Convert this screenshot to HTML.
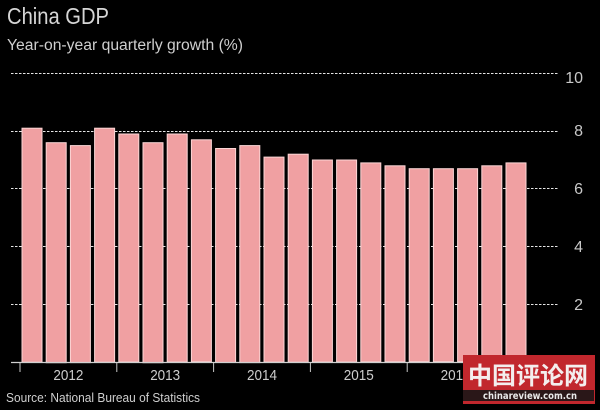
<!DOCTYPE html>
<html>
<head>
<meta charset="utf-8">
<style>
html,body{margin:0;padding:0;background:#000;}
body{width:600px;height:410px;overflow:hidden;}
svg{display:block;}
</style>
</head>
<body>
<svg width="600" height="410" viewBox="0 0 600 410" xmlns="http://www.w3.org/2000/svg">
<rect width="600" height="410" fill="#000"/>
<text x="7" y="24" font-family="Liberation Sans, sans-serif" font-size="23" fill="#d6d6d6" textLength="102" lengthAdjust="spacingAndGlyphs">China GDP</text>
<text x="7" y="50" font-family="Liberation Sans, sans-serif" font-size="15.5" fill="#cfcfcf" textLength="236" lengthAdjust="spacingAndGlyphs">Year-on-year quarterly growth (%)</text>

<g stroke="#e6e6e6" stroke-width="1" stroke-dasharray="2.5,1.5">
<line x1="11" y1="73.5" x2="558" y2="73.5"/>
<line x1="11" y1="131.5" x2="558" y2="131.5"/>
<line x1="11" y1="188.5" x2="558" y2="188.5"/>
<line x1="11" y1="246.5" x2="558" y2="246.5"/>
<line x1="11" y1="304.5" x2="558" y2="304.5"/>
</g>

<g font-family="Liberation Sans, sans-serif" font-size="16" fill="#c8c8c8" text-anchor="end">
<text x="583" y="83">10</text>
<text x="583" y="136">8</text>
<text x="583" y="194">6</text>
<text x="583" y="252">4</text>
<text x="583" y="310">2</text>
</g>

<g fill="#f0a0a2" stroke="#fbd6d6" stroke-width="1">
<rect x="22" y="128.2" width="20" height="234"/>
<rect x="46.2" y="142.7" width="20" height="220"/>
<rect x="70.4" y="145.6" width="20" height="217"/>
<rect x="94.6" y="128.2" width="20" height="234"/>
<rect x="118.8" y="134" width="20" height="228"/>
<rect x="143" y="142.7" width="20" height="220"/>
<rect x="167.2" y="134" width="20" height="228"/>
<rect x="191.4" y="139.8" width="20" height="222"/>
<rect x="215.6" y="148.5" width="20" height="214"/>
<rect x="239.8" y="145.6" width="20" height="217"/>
<rect x="264" y="157.1" width="20" height="205"/>
<rect x="288.2" y="154.2" width="20" height="208"/>
<rect x="312.4" y="160" width="20" height="202"/>
<rect x="336.6" y="160" width="20" height="202"/>
<rect x="360.8" y="162.9" width="20" height="199"/>
<rect x="385" y="165.8" width="20" height="196"/>
<rect x="409.2" y="168.7" width="20" height="193"/>
<rect x="433.4" y="168.7" width="20" height="193"/>
<rect x="457.6" y="168.7" width="20" height="193"/>
<rect x="481.8" y="165.8" width="20" height="196"/>
<rect x="506" y="162.9" width="20" height="199"/>
</g>

<line x1="11" y1="362.5" x2="558" y2="362.5" stroke="#d0d0d0" stroke-width="1.2"/>
<g stroke="#c8c8c8" stroke-width="1">
<line x1="20" y1="363" x2="20" y2="372"/>
<line x1="116.8" y1="363" x2="116.8" y2="372"/>
<line x1="213.6" y1="363" x2="213.6" y2="372"/>
<line x1="310.4" y1="363" x2="310.4" y2="372"/>
<line x1="407.2" y1="363" x2="407.2" y2="372"/>
<line x1="504" y1="363" x2="504" y2="372"/>
</g>
<g font-family="Liberation Sans, sans-serif" font-size="15" fill="#cccccc" text-anchor="middle">
<text x="68.4" y="380" textLength="30" lengthAdjust="spacingAndGlyphs">2012</text>
<text x="165.2" y="380" textLength="30" lengthAdjust="spacingAndGlyphs">2013</text>
<text x="262" y="380" textLength="30" lengthAdjust="spacingAndGlyphs">2014</text>
<text x="358.8" y="380" textLength="30" lengthAdjust="spacingAndGlyphs">2015</text>
<text x="455.6" y="380" textLength="30" lengthAdjust="spacingAndGlyphs">2016</text>
</g>

<text x="6" y="402" font-family="Liberation Sans, sans-serif" font-size="12.5" fill="#cfcfcf" textLength="194" lengthAdjust="spacingAndGlyphs">Source: National Bureau of Statistics</text>

<rect x="463" y="355" width="132" height="49" fill="#c1272d"/>
<rect x="463" y="390" width="131" height="11" fill="#2a1718"/>
<text x="528" y="384" font-family="Noto Sans CJK SC, WenQuanYi Zen Hei, sans-serif" font-size="24" font-weight="bold" fill="#f4eeee" text-anchor="middle" textLength="120" lengthAdjust="spacingAndGlyphs">中国评论网</text>
<text x="530" y="399" font-family="DejaVu Sans, sans-serif" font-size="10" font-weight="bold" fill="#e8e8e8" text-anchor="middle" textLength="94" lengthAdjust="spacingAndGlyphs">chinareview.com.cn</text>
</svg>
</body>
</html>
